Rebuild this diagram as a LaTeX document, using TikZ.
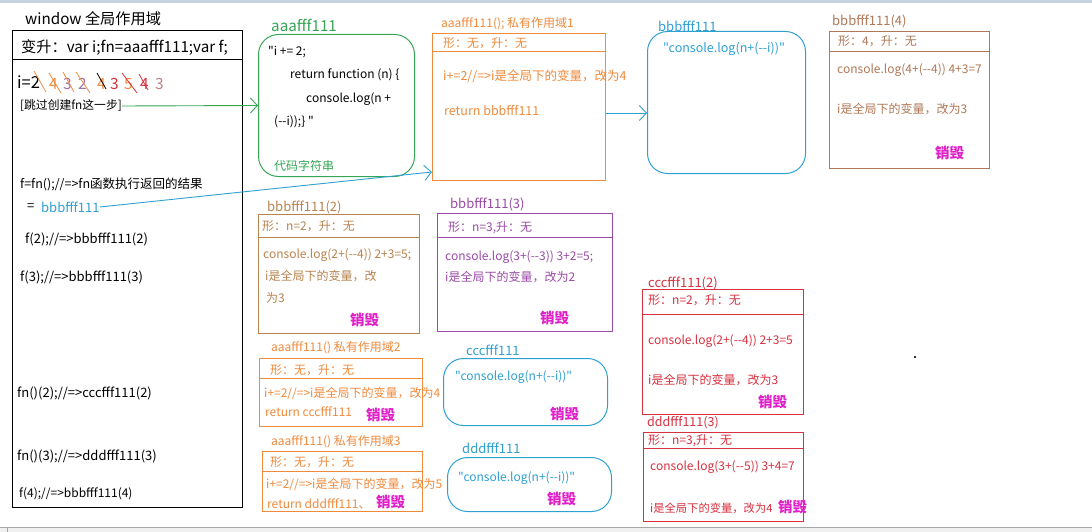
\documentclass[tikz,border=0pt]{standalone}
\usepackage{fontspec}
\setmainfont{Noto Sans CJK SC}[Ligatures=TeXOff]
\usetikzlibrary{arrows.meta}
\definecolor{topbar}{HTML}{C6D2E2}
\definecolor{gcol}{HTML}{35A655}
\definecolor{ocol}{HTML}{F08A3C}
\definecolor{bcol}{HTML}{2EA0D2}
\definecolor{brcol}{HTML}{B8834F}
\definecolor{br4col}{HTML}{B07858}
\definecolor{pcol}{HTML}{9B4AA8}
\definecolor{rcol}{HTML}{D8303F}
\definecolor{kcol}{HTML}{E020C8}
\definecolor{lpcol}{HTML}{A070A8}
\definecolor{pkcol}{HTML}{C08080}
\begin{document}
\begin{tikzpicture}[x=1pt,y=-1pt,
  big/.style={anchor=west, inner sep=0pt, font=\fontsize{15.2}{17}\selectfont},
  dig/.style={anchor=west, inner sep=0pt, font=\fontsize{15.5}{17}\selectfont},
  main/.style={anchor=west, inner sep=0pt, font=\fontsize{13}{15}\selectfont},
  lbl/.style={anchor=west, inner sep=0pt, font=\fontsize{13}{15}\selectfont},
  tx/.style={anchor=west, inner sep=0pt, font=\fontsize{12}{14}\selectfont},
  kill/.style={anchor=west, inner sep=0pt, text=kcol, font=\fontsize{14.5}{16}\selectfont\bfseries},
  box/.style={draw, anchor=north west, inner sep=0pt, line width=1pt},
  rbox/.style={box, rounded corners=20pt},
  arr/.style={line width=0.9pt, -{Straight Barb[length=7pt,width=15pt]}},
  slash/.style={line width=0.8pt}]
\useasboundingbox (0,0) rectangle (1092,532);
\fill[white] (0,0) rectangle (1092,532);
\fill[topbar] (0,0) rectangle (1092,3.5);
\fill[black!6] (0,527.5) rectangle (1092,532);
\draw[black!35] (0,527.5) -- (1092,527.5);
\draw[black!35] (7,527.5) -- (7,532);
\fill[black!80] (914,356) rectangle (916,358);

% ---------- left window box ----------
\node[big] (wtitle) at (25,19) {window 全局作用域};
\node[box, line width=1.1pt, minimum width=230pt, minimum height=477pt] (win) at (12,30) {};
\draw[line width=1pt] (win.west |- 0,60) -- (win.east |- 0,60);
\node[big] (hoist) at (21,47) {变升：var i;fn=aaafff111;var f;};
\node[dig, font=\fontsize{16.5}{18}\selectfont] (ival) at (17,82) {i=2};
\node[dig, text=ocol] (d1) at (49,84) {4};
\node[dig, text=lpcol] (d2) at (63,84) {3};
\node[dig, text=lpcol] (d3) at (78,84) {2};
\node[dig, text=ocol] (d4) at (97,84) {4};
\node[dig, text=rcol] (d5) at (110,84) {3};
\node[dig, text=ocol] (d6) at (124,84) {5};
\node[dig, text=rcol] (d7) at (140,84) {4};
\node[dig, text=pkcol] (d8) at (155,84) {3};
\draw[slash, ocol] (34,71) -- (46,92);
\draw[slash, ocol] (49,73) -- (61,93);
\draw[slash, ocol] (63,72) -- (74,92);
\draw[slash, ocol] (76,72) -- (90,93);
\draw[slash, black] (97,73) -- (106,89);
\draw[slash, rcol] (122,73) -- (137,93);
\draw[slash, rcol] (139,74) -- (148,90);
\node[main, font=\fontsize{11.8}{13}\selectfont] (skip) at (20,106) {[跳过创建fn这一步]};
\node[main, font=\fontsize{12.5}{14}\selectfont] (fcall) at (20,184) {f=fn();//=>fn函数执行返回的结果};
\node[main] (eq) at (27,207) {=};
\node[main, text=bcol] (bval) at (41,207) {bbbfff111};
\node[main] (f2) at (25,239) {f(2);//=>bbbfff111(2)};
\node[main] (f3) at (20,277) {f(3);//=>bbbfff111(3)};
\node[main] (fn2) at (17,393) {fn()(2);//=>cccfff111(2)};
\node[main] (fn3) at (17,456) {fn()(3);//=>dddfff111(3)};
\node[main, font=\fontsize{12}{13}\selectfont] (f4) at (19,494) {f(4);//=>bbbfff111(4)};

% ---------- aaafff111 code string ----------
\node[big, text=gcol] (aaaflbl) at (271,25) {aaafff111};
\node[rbox, draw=gcol, minimum width=156pt, minimum height=142pt] (aaaf) at (258,34) {};
\node[tx] (c1) at (268,52) {"i += 2;};
\node[tx] (c2) at (290,75) {return function (n) \{};
\node[tx] (c3) at (306,99) {console.log(n +};
\node[tx] (c4) at (274,122) {(--i));\} "};
\node[tx, text=gcol] (c5) at (274,166) {代码字符串};

% ---------- aaafff111() scope 1 ----------
\node[tx, text=ocol] (aaa1lbl) at (441,24) {aaafff111(); 私有作用域1};
\node[box, draw=ocol, minimum width=173pt, minimum height=147pt] (aaa1) at (432,33) {};
\draw[ocol, line width=1pt] (aaa1.west |- 0,52) -- (aaa1.east |- 0,52);
\node[tx, text=ocol] (a1t1) at (443,43) {形：无，升：无};
\node[tx, text=ocol, font=\fontsize{12.5}{14}\selectfont] (a1t2) at (443,76) {i+=2//=>i是全局下的变量，改为4};
\node[tx, text=ocol, font=\fontsize{12.5}{14}\selectfont] (a1t3) at (444,111) {return bbbfff111};

% ---------- bbbfff111 ----------
\node[lbl, text=bcol] (bbbflbl) at (658,26) {bbbfff111};
\node[rbox, draw=bcol, minimum width=158pt, minimum height=142pt] (bbbf) at (647,31) {};
\node[tx, text=bcol, font=\fontsize{12.5}{14}\selectfont] (bft) at (663,49) {"console.log(n+(--i))"};

% ---------- bbbfff111(4) ----------
\node[lbl, text=br4col] (bbb4lbl) at (832,21) {bbbfff111(4)};
\node[box, draw=br4col, minimum width=160pt, minimum height=137pt] (bbb4) at (829,31) {};
\draw[br4col, line width=1pt] (bbb4.west |- 0,52) -- (bbb4.east |- 0,52);
\node[tx, text=br4col] (b4t1) at (838,41) {形：4，升：无};
\node[tx, text=br4col] (b4t2) at (837,70) {console.log(4+(--4)) 4+3=7};
\node[tx, text=br4col] (b4t3) at (837,109) {i是全局下的变量，改为3};
\node[kill] (b4k) at (935,153) {销毁};

% ---------- bbbfff111(2) ----------
\node[lbl, text=brcol] (bbb2lbl) at (267,207) {bbbfff111(2)};
\node[box, draw=brcol, minimum width=161pt, minimum height=119pt] (bbb2) at (258,214) {};
\draw[brcol, line width=1pt] (bbb2.west |- 0,237) -- (bbb2.east |- 0,237);
\node[tx, text=brcol] (b2t1) at (262,226) {形：n=2，升：无};
\node[tx, text=brcol] (b2t2) at (263,255) {console.log(2+(--4)) 2+3=5;};
\node[tx, text=brcol] (b2t3) at (265,276) {i是全局下的变量，改};
\node[tx, text=brcol] (b2t4) at (266,298) {为3};
\node[kill] (b2k) at (350,320) {销毁};

% ---------- bbbfff111(3) ----------
\node[lbl, text=pcol] (bbb3lbl) at (450,204) {bbbfff111(3)};
\node[box, draw=pcol, minimum width=175pt, minimum height=118pt] (bbb3) at (437,213) {};
\draw[pcol, line width=1pt] (bbb3.west |- 0,237) -- (bbb3.east |- 0,237);
\node[tx, text=pcol] (b3t1) at (448,228) {形：n=3,升：无};
\node[tx, text=pcol] (b3t2) at (445,257) {console.log(3+(--3)) 3+2=5;};
\node[tx, text=pcol] (b3t3) at (445,277) {i是全局下的变量，改为2};
\node[kill] (b3k) at (540,318) {销毁};

% ---------- aaafff111() scope 2 ----------
\node[tx, text=ocol] (aaa2lbl) at (271,348) {aaafff111() 私有作用域2};
\node[box, draw=ocol, minimum width=163pt, minimum height=68pt] (aaa2) at (259,358) {};
\draw[ocol, line width=1pt] (aaa2.west |- 0,378) -- (aaa2.east |- 0,378);
\node[tx, text=ocol] (a2t1) at (270,370) {形：无，升：无};
\node[tx, text=ocol] (a2t2) at (264,393) {i+=2//=>i是全局下的变量，改为4};
\node[tx, text=ocol] (a2t3) at (265,412) {return cccfff111};
\node[kill] (a2k) at (366,415) {销毁};

% ---------- cccfff111 ----------
\node[lbl, text=bcol] (cccflbl) at (466,350) {cccfff111};
\node[rbox, draw=bcol, minimum width=164pt, minimum height=67pt] (cccf) at (443,358) {};
\node[tx, text=bcol] (cft) at (455,377) {"console.log(n+(--i))"};
\node[kill] (cfk) at (550,414) {销毁};

% ---------- aaafff111() scope 3 ----------
\node[tx, text=ocol] (aaa3lbl) at (271,442) {aaafff111() 私有作用域3};
\node[box, draw=ocol, minimum width=160pt, minimum height=60pt] (aaa3) at (262,451) {};
\draw[ocol, line width=1pt] (aaa3.west |- 0,471) -- (aaa3.east |- 0,471);
\node[tx, text=ocol] (a3t1) at (270,462) {形：无，升：无};
\node[tx, text=ocol] (a3t2) at (266,484) {i+=2//=>i是全局下的变量，改为5};
\node[tx, text=ocol] (a3t3) at (267,504) {return dddfff111、};
\node[kill] (a3k) at (376,502) {销毁};

% ---------- dddfff111 ----------
\node[lbl, text=bcol] (dddflbl) at (462,448) {dddfff111};
\node[rbox, draw=bcol, minimum width=164pt, minimum height=54pt] (dddf) at (447,457) {};
\node[tx, text=bcol] (dft) at (458,478) {"console.log(n+(--i))"};
\node[kill] (dfk) at (547,499) {销毁};

% ---------- cccfff111(2) ----------
\node[lbl, text=rcol] (ccc2lbl) at (648,283) {cccfff111(2)};
\node[box, draw=rcol, minimum width=161pt, minimum height=125pt] (ccc2) at (642,289) {};
\draw[rcol, line width=1pt] (ccc2.west |- 0,314) -- (ccc2.east |- 0,314);
\node[tx, text=rcol] (c2t1) at (648,300) {形：n=2，升：无};
\node[tx, text=rcol] (c2t2) at (648,341) {console.log(2+(--4)) 2+3=5};
\node[tx, text=rcol] (c2t3) at (648,380) {i是全局下的变量，改为3};
\node[kill] (c2k) at (758,402) {销毁};

% ---------- dddfff111(3) ----------
\node[lbl, text=rcol, font=\fontsize{12.5}{14}\selectfont] (ddd3lbl) at (647,423) {dddfff111(3)};
\node[box, draw=rcol, minimum width=160pt, minimum height=89pt] (ddd3) at (643,432) {};
\draw[rcol, line width=1pt] (ddd3.west |- 0,448) -- (ddd3.east |- 0,448);
\node[tx, text=rcol] (d3t1) at (648,441) {形：n=3,升：无};
\node[tx, text=rcol] (d3t2) at (650,467) {console.log(3+(--5)) 3+4=7};
\node[tx, text=rcol, font=\fontsize{11.3}{13}\selectfont] (d3t3) at (650,508) {i是全局下的变量，改为4};
\node[kill] (d3k) at (778,507) {销毁};

% ---------- arrows ----------
\draw[arr, gcol] (skip.east) -- (aaaf.west);
\draw[arr, bcol] (bval.east) -- ([yshift=9pt]aaa1.south west);
\draw[arr, bcol] (aaa1.east |- 0,113) -- (bbbf.west |- 0,113);
\end{tikzpicture}
\end{document}
